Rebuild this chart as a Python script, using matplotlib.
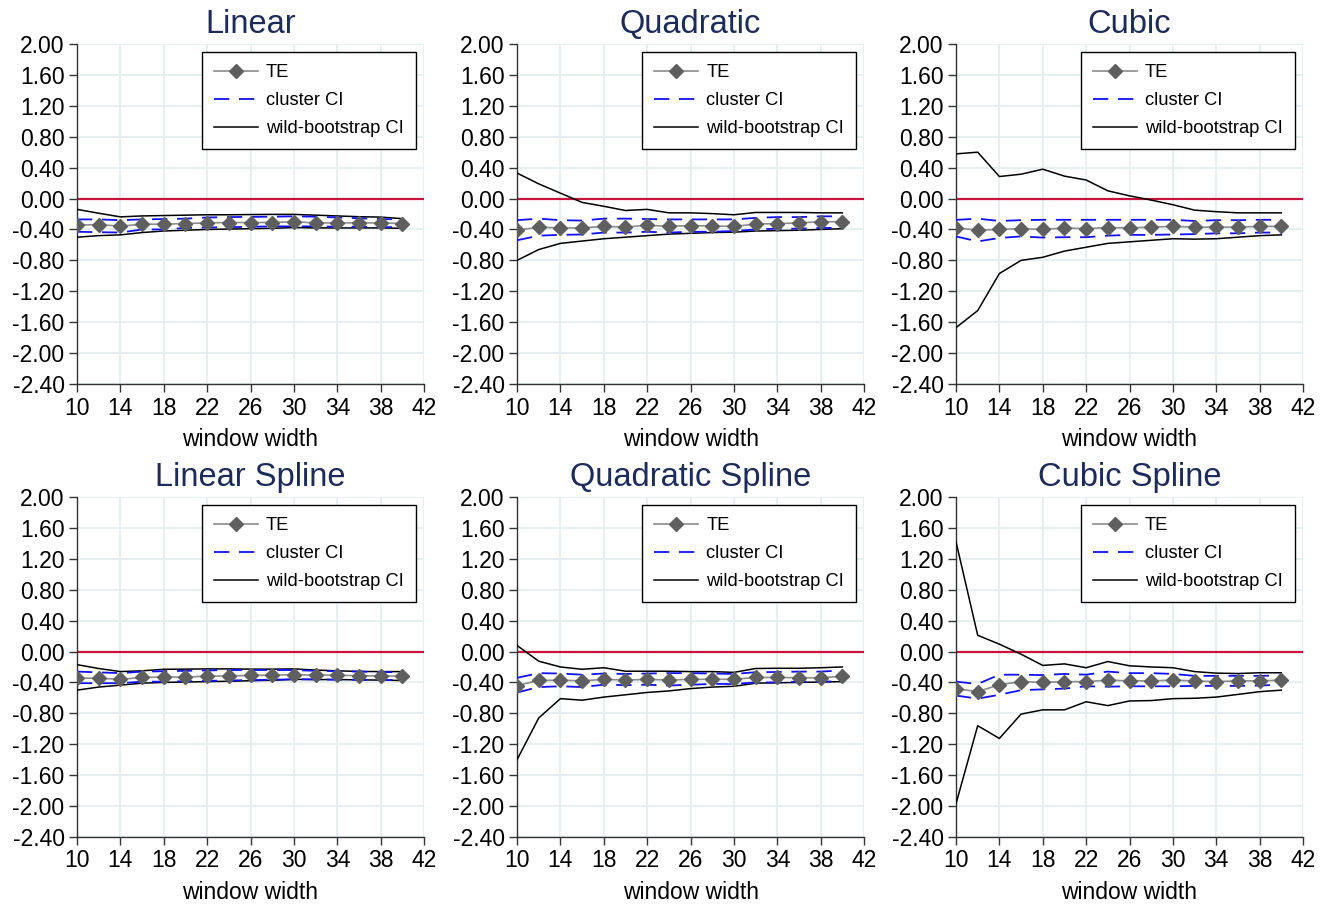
import numpy as np
import matplotlib
matplotlib.use("Agg")
import matplotlib.pyplot as plt

plt.rcParams['font.family'] = ['Liberation Sans', 'DejaVu Sans']
plt.rcParams['axes.unicode_minus'] = False
plt.rcParams['lines.scale_dashes'] = False

window = [10, 12, 14, 16, 18, 20, 22, 24, 26, 28, 30, 32, 34, 36, 38, 40]
yticks = [-2.4, -2.0, -1.6, -1.2, -0.8, -0.4, 0.0, 0.4, 0.8, 1.2, 1.6, 2.0]
xticks = [10, 14, 18, 22, 26, 30, 34, 38, 42]

# Linear
lin_te = [-0.345, -0.336, -0.358, -0.332, -0.332, -0.323, -0.315, -0.31, -0.31, -0.31, -0.30, -0.315, -0.315, -0.315, -0.315, -0.323]
lin_cl_hi = [-0.27, -0.27, -0.28, -0.27, -0.265, -0.26, -0.245, -0.24, -0.237, -0.235, -0.23, -0.235, -0.245, -0.255, -0.265, -0.27]
lin_cl_lo = [-0.43, -0.435, -0.44, -0.40, -0.40, -0.38, -0.375, -0.37, -0.365, -0.36, -0.36, -0.36, -0.365, -0.365, -0.37, -0.37]
lin_wb_hi = [-0.14, -0.19, -0.237, -0.225, -0.22, -0.215, -0.21, -0.21, -0.207, -0.205, -0.205, -0.215, -0.225, -0.235, -0.24, -0.26]
lin_wb_lo = [-0.50, -0.48, -0.47, -0.44, -0.42, -0.41, -0.40, -0.395, -0.39, -0.385, -0.375, -0.38, -0.38, -0.38, -0.38, -0.385]

# Quadratic
quad_te = [-0.41, -0.37, -0.38, -0.38, -0.36, -0.37, -0.345, -0.36, -0.35, -0.355, -0.36, -0.33, -0.325, -0.315, -0.30, -0.30]
quad_cl_hi = [-0.28, -0.26, -0.28, -0.285, -0.26, -0.26, -0.265, -0.27, -0.27, -0.27, -0.27, -0.25, -0.24, -0.24, -0.23, -0.23]
quad_cl_lo = [-0.54, -0.48, -0.47, -0.465, -0.44, -0.44, -0.43, -0.44, -0.43, -0.43, -0.42, -0.40, -0.39, -0.39, -0.38, -0.38]
quad_wb_hi = [0.33, 0.19, 0.07, -0.05, -0.10, -0.155, -0.14, -0.185, -0.185, -0.195, -0.21, -0.18, -0.18, -0.18, -0.185, -0.185]
quad_wb_lo = [-0.80, -0.66, -0.58, -0.55, -0.52, -0.50, -0.48, -0.46, -0.45, -0.44, -0.435, -0.42, -0.415, -0.41, -0.40, -0.39]

# Cubic
cub_te = [-0.38, -0.41, -0.40, -0.39, -0.40, -0.38, -0.39, -0.375, -0.38, -0.37, -0.36, -0.37, -0.37, -0.37, -0.36, -0.36]
cub_cl_hi = [-0.276, -0.26, -0.29, -0.28, -0.275, -0.275, -0.275, -0.275, -0.275, -0.275, -0.275, -0.29, -0.28, -0.28, -0.275, -0.275]
cub_cl_lo = [-0.49, -0.555, -0.51, -0.49, -0.505, -0.50, -0.50, -0.48, -0.47, -0.47, -0.465, -0.46, -0.45, -0.45, -0.44, -0.44]
cub_wb_hi = [0.578, 0.60, 0.285, 0.315, 0.38, 0.29, 0.24, 0.10, 0.035, -0.02, -0.08, -0.15, -0.17, -0.185, -0.185, -0.185]
cub_wb_lo = [-1.67, -1.45, -0.97, -0.80, -0.76, -0.68, -0.63, -0.58, -0.56, -0.54, -0.52, -0.525, -0.52, -0.50, -0.48, -0.47]

# Linear Spline
lsp_te = [-0.345, -0.345, -0.36, -0.336, -0.33, -0.33, -0.32, -0.315, -0.31, -0.305, -0.30, -0.305, -0.305, -0.315, -0.315, -0.32]
lsp_cl_hi = [-0.26, -0.27, -0.28, -0.26, -0.255, -0.25, -0.245, -0.24, -0.24, -0.24, -0.24, -0.25, -0.255, -0.26, -0.265, -0.27]
lsp_cl_lo = [-0.41, -0.41, -0.41, -0.39, -0.39, -0.385, -0.38, -0.375, -0.37, -0.365, -0.36, -0.36, -0.365, -0.365, -0.37, -0.37]
lsp_wb_hi = [-0.17, -0.22, -0.26, -0.25, -0.23, -0.228, -0.225, -0.225, -0.228, -0.228, -0.225, -0.24, -0.25, -0.258, -0.26, -0.26]
lsp_wb_lo = [-0.50, -0.46, -0.435, -0.41, -0.40, -0.395, -0.39, -0.385, -0.378, -0.372, -0.36, -0.363, -0.363, -0.367, -0.37, -0.375]

# Quadratic Spline
qsp_te = [-0.44, -0.375, -0.37, -0.38, -0.36, -0.37, -0.36, -0.37, -0.36, -0.36, -0.36, -0.336, -0.336, -0.34, -0.34, -0.32]
qsp_cl_hi = [-0.34, -0.28, -0.285, -0.30, -0.285, -0.29, -0.285, -0.28, -0.28, -0.285, -0.29, -0.268, -0.265, -0.26, -0.26, -0.245]
qsp_cl_lo = [-0.53, -0.46, -0.45, -0.46, -0.43, -0.435, -0.43, -0.44, -0.43, -0.42, -0.42, -0.40, -0.40, -0.39, -0.39, -0.385]
qsp_wb_hi = [0.078, -0.125, -0.20, -0.23, -0.21, -0.255, -0.255, -0.255, -0.26, -0.26, -0.27, -0.22, -0.217, -0.217, -0.21, -0.20]
qsp_wb_lo = [-1.40, -0.86, -0.61, -0.63, -0.59, -0.56, -0.53, -0.51, -0.48, -0.46, -0.45, -0.41, -0.405, -0.40, -0.395, -0.39]

# Cubic Spline
csp_te = [-0.48, -0.52, -0.43, -0.39, -0.40, -0.39, -0.39, -0.37, -0.38, -0.38, -0.37, -0.38, -0.39, -0.38, -0.38, -0.37]
csp_cl_hi = [-0.39, -0.42, -0.30, -0.30, -0.305, -0.29, -0.30, -0.26, -0.28, -0.28, -0.29, -0.315, -0.315, -0.315, -0.315, -0.31]
csp_cl_lo = [-0.57, -0.61, -0.56, -0.50, -0.49, -0.48, -0.45, -0.455, -0.45, -0.45, -0.45, -0.445, -0.445, -0.445, -0.44, -0.43]
csp_wb_hi = [1.42, 0.21, 0.095, -0.035, -0.18, -0.16, -0.21, -0.13, -0.185, -0.20, -0.21, -0.26, -0.28, -0.285, -0.275, -0.275]
csp_wb_lo = [-1.97, -0.96, -1.125, -0.81, -0.755, -0.755, -0.65, -0.70, -0.64, -0.635, -0.61, -0.605, -0.59, -0.555, -0.52, -0.50]

titles = ['Linear', 'Quadratic', 'Cubic', 'Linear Spline', 'Quadratic Spline', 'Cubic Spline']
panels = [
    (lin_te, lin_cl_lo, lin_cl_hi, lin_wb_lo, lin_wb_hi),
    (quad_te, quad_cl_lo, quad_cl_hi, quad_wb_lo, quad_wb_hi),
    (cub_te, cub_cl_lo, cub_cl_hi, cub_wb_lo, cub_wb_hi),
    (lsp_te, lsp_cl_lo, lsp_cl_hi, lsp_wb_lo, lsp_wb_hi),
    (qsp_te, qsp_cl_lo, qsp_cl_hi, qsp_wb_lo, qsp_wb_hi),
    (csp_te, csp_cl_lo, csp_cl_hi, csp_wb_lo, csp_wb_hi),
]

fig = plt.figure(figsize=(13.21, 9.07), dpi=100)
lefts = [0.0583, 0.3914, 0.7237]
bottoms = [0.5766, 0.0772]
w, h = 0.2627, 0.3749

for i, (title, data) in enumerate(zip(titles, panels)):
    te, cl_lo, cl_hi, wb_lo, wb_hi = data
    ax = fig.add_axes([lefts[i % 3], bottoms[i // 3], w, h])

    ax.axhline(0, color='#c8143c', lw=1.6, zorder=2)
    l1, = ax.plot(window, te, color='#8c8c8c', lw=1.2, marker='D', ms=7,
                  markerfacecolor='#5f5f5f', markeredgecolor='#5f5f5f', zorder=5)
    l2, = ax.plot(window, cl_hi, color='#1010ff', lw=1.3, dashes=(11, 7), zorder=4)
    ax.plot(window, cl_lo, color='#1010ff', lw=1.3, dashes=(11, 7), zorder=4)
    l3, = ax.plot(window, wb_hi, color='black', lw=1.1, zorder=3)
    ax.plot(window, wb_lo, color='black', lw=1.1, zorder=3)

    ax.set_xlim(10, 42)
    ax.set_ylim(-2.4, 2.0)
    ax.set_xticks(xticks)
    ax.set_yticks(yticks)
    ax.set_yticklabels(['%.2f' % v for v in yticks])
    ax.grid(True, color='#e6eff1', lw=1.4, zorder=0)
    ax.set_axisbelow(True)
    for s in ['top', 'right']:
        ax.spines[s].set_visible(False)
    for s in ['left', 'bottom']:
        ax.spines[s].set_color('#333333')
        ax.spines[s].set_linewidth(1.0)
    ax.tick_params(labelsize=16.5, length=6, width=1.0, color='#333333', pad=3)
    ax.set_xlabel('window width', fontsize=16.5, labelpad=6)
    ax.set_title(title, fontsize=23.5, color='#1c2b5a', pad=8)

    leg = ax.legend([l1, l2, l3], ['TE', 'cluster CI', 'wild-bootstrap CI'],
                    loc='upper right', fontsize=13.2, numpoints=1, handlelength=2.4,
                    handletextpad=0.47, labelspacing=0.6, borderaxespad=0.45,
                    borderpad=0.65, fancybox=False, framealpha=1)
    leg.get_frame().set_edgecolor('black')
    leg.get_frame().set_linewidth(1.0)
    for hl in leg.legend_handles:
        hl.set_markersize(7)

fig.savefig('out.png', dpi=100)
